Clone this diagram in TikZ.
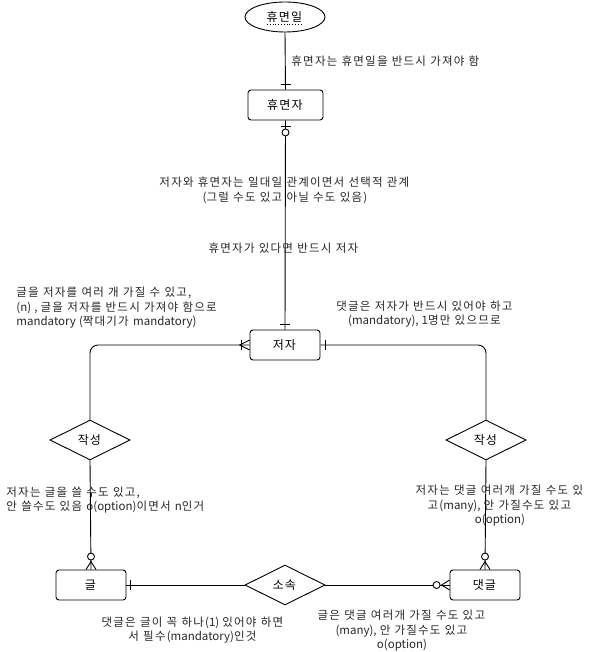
\documentclass[tikz,border=0pt]{standalone}
\usepackage{fontspec}
\setmainfont[WordSpace=1.2]{Noto Sans CJK KR}
\usetikzlibrary{shapes.geometric,calc}
% widen Hangul slightly to match the reference font's advance widths
\newXeTeXintercharclass\hangulclass
\count255="AC00
\loop
  \XeTeXcharclass\count255=\hangulclass
  \advance\count255 by 1
\ifnum\count255<"D7A4 \repeat
\XeTeXinterchartoks\hangulclass\hangulclass={\kern1.2pt\relax}
\XeTeXinterchartoks\hangulclass 0={\kern1.2pt\relax}
\XeTeXinterchartoks\hangulclass 4095={\kern1.2pt\relax}
\XeTeXinterchartokenstate=1
\begin{document}
\begin{tikzpicture}[x=1pt,y=-1pt,line width=0.9pt,
  ent/.style={draw,rounded corners=3pt,minimum width=70pt,minimum height=30pt,inner sep=0pt,font=\fontsize{12}{14}\selectfont},
  rel/.style={draw,diamond,shape aspect=2,minimum width=80pt,minimum height=40pt,inner sep=0pt,font=\fontsize{12}{14}\selectfont},
  attr/.style={draw,ellipse,minimum width=80pt,minimum height=30pt,inner sep=0pt,font=\fontsize{12}{14}\selectfont},
  lbl/.style={inner sep=0pt,font=\fontsize{11.5}{14.5}\selectfont,text=black!85},
  conn/.style={draw,line width=0.9pt},
  endmark/.style={draw,line width=0.9pt}]
\useasboundingbox (0,0) rectangle (592,652);

% nodes
\node[attr] (hm) at (285,17) {휴면일};
\draw[dotted,line width=0.8pt] (267,24) -- (303,24);
\node[ent,minimum width=75pt] (hz) at (285.5,105) {휴면자};
\node[ent] (jj) at (285,345) {저자};
\node[rel] (d1) at (90,440) {작성};
\node[rel] (d2) at (486,440) {작성};
\node[ent] (gl) at (91,585) {글};
\node[ent] (dg) at (485,585) {댓글};
\node[rel] (d3) at (285,585) {소속};

% connectors
\draw[conn] (hm.south) -- (hz.north);
\draw[endmark] ($(hz.north)+(-5,-5)$) -- ($(hz.north)+(5,-5)$);

\draw[conn] (hz.south) -- (jj.north);
\draw[endmark] ($(hz.south)+(-5,6)$) -- ($(hz.south)+(5,6)$);
\draw[endmark,fill=white] ($(hz.south)+(0,12)$) circle (3.5);
\draw[endmark] ($(jj.north)+(-5,-5)$) -- ($(jj.north)+(5,-5)$);

\coordinate (c1) at (90,345);
\draw[conn,rounded corners=8pt] (jj.west) -- (c1) -- (d1.north);
\draw[endmark] ($(jj.west)+(-8,-5)$) -- ($(jj.west)+(-8,5)$);
\draw[endmark] ($(jj.west)+(-10,0)$) -- ($(jj.west)+(0,-5)$);
\draw[endmark] ($(jj.west)+(-10,0)$) -- ($(jj.west)+(0,5)$);

\coordinate (c2) at (486,345);
\draw[conn,rounded corners=8pt] (jj.east) -- (c2) -- (d2.north);
\draw[endmark] ($(jj.east)+(5,-5)$) -- ($(jj.east)+(5,5)$);

\draw[conn] (d1.south) -- (gl.north);
\draw[endmark,fill=white] ($(gl.north)+(0,-13)$) circle (3.5);
\draw[endmark] ($(gl.north)+(0,-8)$) -- ($(gl.north)+(-5,0)$);
\draw[endmark] ($(gl.north)+(0,-8)$) -- ($(gl.north)+(5,0)$);

\draw[conn] (d2.south) -- (dg.north);
\draw[endmark,fill=white] ($(dg.north)+(0,-13)$) circle (3.5);
\draw[endmark] ($(dg.north)+(0,-8)$) -- ($(dg.north)+(-5,0)$);
\draw[endmark] ($(dg.north)+(0,-8)$) -- ($(dg.north)+(5,0)$);

\draw[conn] (gl.east) -- (d3.west);
\draw[endmark] ($(gl.east)+(4,-5)$) -- ($(gl.east)+(4,5)$);

\draw[conn] (d3.east) -- (dg.west);
\draw[endmark,fill=white] ($(dg.west)+(-13,0)$) circle (3.5);
\draw[endmark] ($(dg.west)+(-8,0)$) -- ($(dg.west)+(0,-5)$);
\draw[endmark] ($(dg.west)+(-8,0)$) -- ($(dg.west)+(0,5)$);

% labels
\node[lbl,anchor=west] (l1) at (291,61) {휴면자는 휴면일을 반드시 가져야 함};
\node[lbl,align=center] (l2) at (285,190.5) {저자와 휴면자는 일대일 관계이면서 선택적 관계\\(그럴 수도 있고 아닐 수도 있음)};
\node[lbl] (l3) at (284,248) {휴면자가 있다면 반드시 저자};
\node[lbl,anchor=west,align=left] (l4) at (16,308) {글을 저자를 여러 개 가질 수 있고,\\(n) , 글을 저자를 반드시 가져야 함으로\\mandatory (짝대기가 mandatory)};
\node[lbl,align=center] (l5) at (425,314) {댓글은 저자가 반드시 있어야 하고\\(mandatory), 1명만 있으므로};
\node[lbl,anchor=west,align=left] (l6) at (6,500) {저자는 글을 쓸 수도 있고,\\안 쓸수도 있음 o(option)이면서 n인거};
\node[lbl,align=center] (l7) at (500,506) {저자는 댓글 여러개 가질 수도 있\\고(many), 안 가질수도 있고\\o(option)};
\node[lbl,align=center] (l8) at (193,630) {댓글은 글이 꼭 하나(1) 있어야 하면\\서 필수(mandatory)인것};
\node[lbl,align=center] (l9) at (402,631) {글은 댓글 여러개 가질 수도 있고\\(many), 안 가질수도 있고\\o(option)};
\end{tikzpicture}
\end{document}
